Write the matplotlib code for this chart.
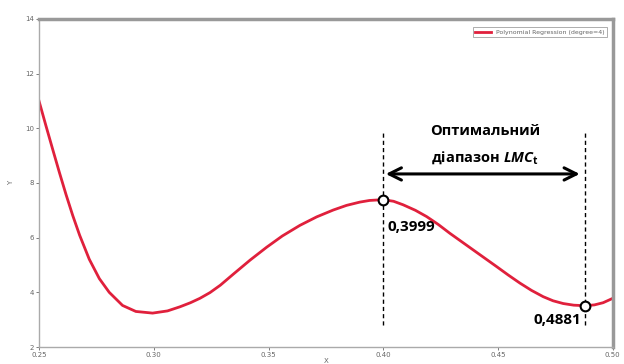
import matplotlib.pyplot as plt

plt.rcParams['mathtext.fontset'] = 'custom'
plt.rcParams['mathtext.rm'] = 'Open Sans:bold'
plt.rcParams['mathtext.it'] = 'Open Sans:bold:italic'
plt.rcParams['mathtext.bf'] = 'Open Sans:bold'

# points
x = [0.2500, 0.2530, 0.2560, 0.2589, 0.2618, 0.2647, 0.2677, 0.2719, 0.2763,
     0.2806, 0.2864, 0.2922, 0.2995, 0.3060, 0.3114, 0.3160, 0.3201, 0.3245,
     0.3290, 0.3346, 0.3420, 0.3492, 0.3560, 0.3637, 0.3710, 0.3782, 0.3840,
     0.3898, 0.3940, 0.3999, 0.4045, 0.4087, 0.4140, 0.4189, 0.4240, 0.4290,
     0.4392, 0.4494, 0.4545, 0.4595, 0.4646, 0.4697, 0.4740, 0.4784, 0.4830,
     0.4881, 0.4920, 0.4958, 0.5000]
y = [11.00, 10.10, 9.22, 8.38, 7.57, 6.81, 6.09, 5.21, 4.50,
     4.00, 3.52, 3.30, 3.24, 3.32, 3.47, 3.62, 3.78, 3.99,
     4.26, 4.66, 5.18, 5.65, 6.06, 6.45, 6.76, 7.01, 7.18,
     7.30, 7.36, 7.39, 7.33, 7.20, 7.00, 6.77, 6.48, 6.16,
     5.55, 4.94, 4.63, 4.34, 4.07, 3.84, 3.69, 3.59, 3.53,
     3.51, 3.54, 3.62, 3.78]

opt_x = [0.3999, 0.4881]
opt_y = [7.39, 3.51]
opt_labels = ["0,3999", "0,4881"]

xticks = [0.25, 0.30, 0.35, 0.40, 0.45, 0.50]
yticks = [2, 4, 6, 8, 10, 12, 14]

fig = plt.figure(figsize=(6.24, 3.64), dpi=100)
ax = fig.add_axes([0.0625, 0.0467, 0.9195, 0.9013])

ax.plot(x, y, color="#e0203c", lw=2, label="Polynomial Regression (degree=4)")
ax.set_xlim(0.25, 0.50)
ax.set_ylim(2, 14)
ax.set_xticks(xticks)
ax.set_xticklabels(["%.2f" % v for v in xticks])
ax.set_yticks(yticks)
ax.tick_params(labelsize=5, colors="#666666", length=2, width=0.6, pad=1.5)
for s in ["left", "bottom"]:
    ax.spines[s].set_color("#aaaaaa")
    ax.spines[s].set_linewidth(1)
for s in ["top", "right"]:
    ax.spines[s].set_color("#999999")
    ax.spines[s].set_linewidth(2.5)
ax.set_ylabel("Y", fontsize=5, color="#666666", labelpad=8)
ax.set_xlabel("X", fontsize=5, color="#666666", labelpad=0)

leg = ax.legend(loc="upper right", fontsize=4.5, frameon=True, fancybox=False,
                handlelength=2.5, borderpad=0.4, bbox_to_anchor=(0.995, 0.985))
leg.get_frame().set_edgecolor("#888888")
leg.get_frame().set_linewidth(0.6)
for t in leg.get_texts():
    t.set_color("#666666")

# optimal range markers
for xv in opt_x:
    ax.plot([xv, xv], [2.8, 9.95], color="black", lw=1, dashes=(3, 2.2))
ax.plot(opt_x, opt_y, "o", ms=7, mfc="white", mec="black", mew=1.5, zorder=5)

ax.annotate("", xy=(0.4011, 8.33), xytext=(0.4856, 8.33),
            arrowprops=dict(arrowstyle="<->", lw=2.2, color="black",
                            mutation_scale=22, shrinkA=0, shrinkB=0))
font = ["Open Sans", "DejaVu Sans"]
ax.text(0.4442, 9.90, "Оптимальний", ha="center", va="center",
        fontsize=10.5, fontweight="bold", family=font)
ax.text(0.4442, 8.91, "діапазон $\\mathit{LMC}_\\mathrm{t}$", ha="center",
        va="center", fontsize=10.5, fontweight="bold", family=font)
ax.text(opt_x[0] + 0.0018, 6.39, opt_labels[0], ha="left", va="center",
        fontsize=11, fontweight="bold", family=font)
ax.text(opt_x[1] - 0.0018, 2.97, opt_labels[1], ha="right", va="center",
        fontsize=11, fontweight="bold", family=font)

plt.savefig("out.png", dpi=100)
